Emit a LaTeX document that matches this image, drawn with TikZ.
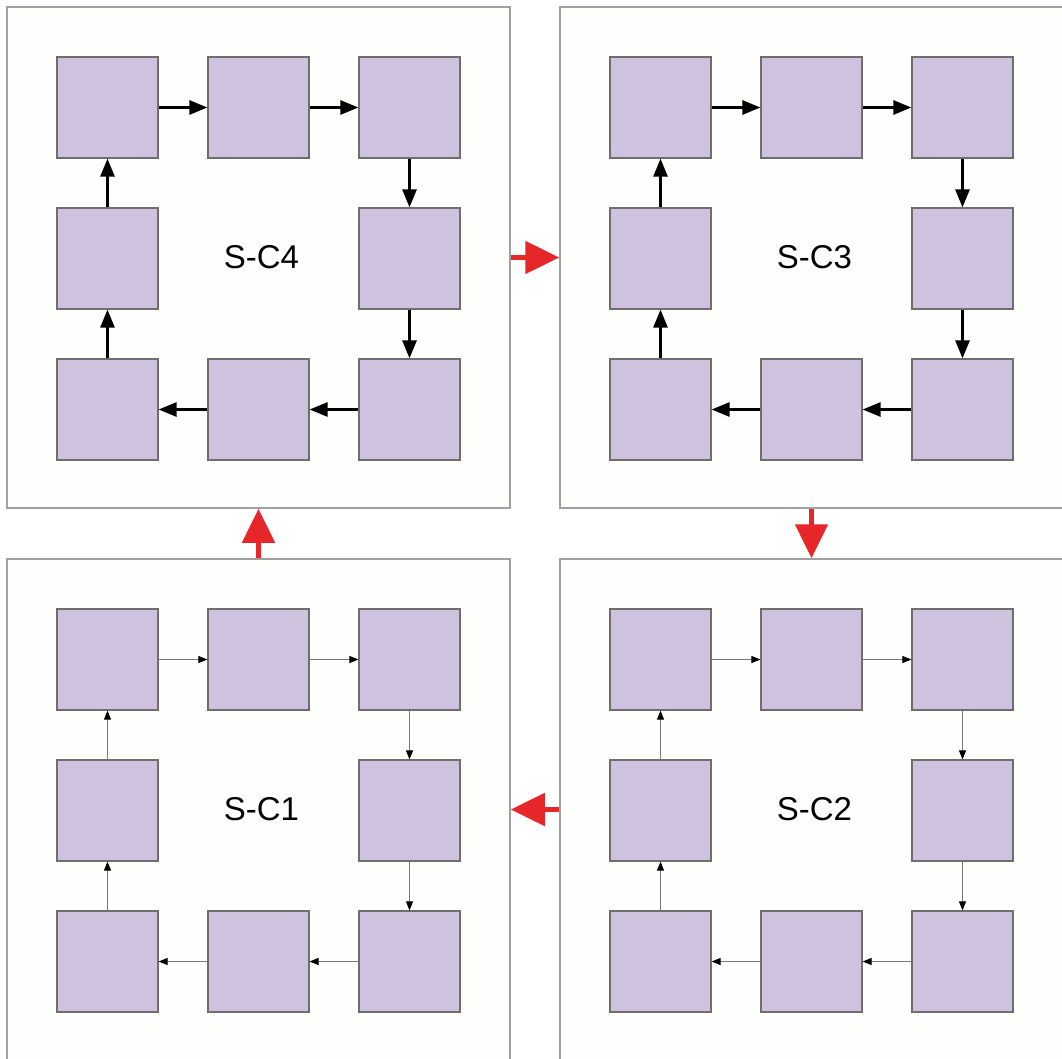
\documentclass[tikz,border=0pt]{standalone}
\usepackage{fontspec}
\setmainfont{Liberation Sans}
\usetikzlibrary{arrows.meta}
\definecolor{sqfill}{RGB}{206,194,222}
\definecolor{sqline}{RGB}{110,110,110}
\definecolor{panelline}{RGB}{160,160,160}
\definecolor{redarr}{RGB}{231,38,42}
\definecolor{thinline}{RGB}{120,120,120}
\definecolor{panelbg}{RGB}{254,254,252}
\tikzset{
  panel/.style={draw=panelline, line width=1.5pt, fill=panelbg, minimum width=503pt, minimum height=501pt, inner sep=0pt},
  sq/.style={draw=sqline, line width=1.2pt, fill=sqfill, minimum size=101pt, inner sep=0pt},
  lbl/.style={font=\fontsize{33}{40}\selectfont, inner sep=0pt},
  boldflow/.style={draw=black, line width=2.7pt, -{Triangle[length=18pt,width=14pt]}},
  thinflow/.style={draw=thinline, line width=1pt, -{Triangle[length=9pt,width=7pt,color=black]}},
  bigred/.style={draw=redarr, line width=5pt, -{Triangle[length=34pt,width=32pt]}},
}
\newcommand{\sqring}[5]{%
  \node[sq] (#1a) at ({#2-151},{#3-151}) {};
  \node[sq] (#1b) at ({#2},{#3-151}) {};
  \node[sq] (#1c) at ({#2+151},{#3-151}) {};
  \node[sq] (#1d) at ({#2+151},{#3}) {};
  \node[sq] (#1e) at ({#2+151},{#3+151}) {};
  \node[sq] (#1f) at ({#2},{#3+151}) {};
  \node[sq] (#1g) at ({#2-151},{#3+151}) {};
  \node[sq] (#1h) at ({#2-151},{#3}) {};
  \node[lbl] (#1t) at ({#2+3},{#3-1}) {#4};
  \draw[#5] (#1a) -- (#1b);
  \draw[#5] (#1b) -- (#1c);
  \draw[#5] (#1c) -- (#1d);
  \draw[#5] (#1d) -- (#1e);
  \draw[#5] (#1e) -- (#1f);
  \draw[#5] (#1f) -- (#1g);
  \draw[#5] (#1g) -- (#1h);
  \draw[#5] (#1h) -- (#1a);
}
\begin{document}
\begin{tikzpicture}[x=1pt,y=-1pt]
  \useasboundingbox (0,0) rectangle (1062,1059);
  \clip (0,0) rectangle (1062,1059);
  \fill[white] (0,0) rectangle (1062,1059);
  % panels
  \node[panel] (P4) at (258.5,257.5) {};
  \node[panel] (P3) at (811.5,257.5) {};
  \node[panel] (P1) at (258.5,809.5) {};
  \node[panel] (P2) at (811.5,809.5) {};
  % rings
  \sqring{q4}{258.5}{258.5}{S-C4}{boldflow}
  \sqring{q3}{811.5}{258.5}{S-C3}{boldflow}
  \sqring{q1}{258.5}{810.5}{S-C1}{thinflow}
  \sqring{q2}{811.5}{810.5}{S-C2}{thinflow}
  % red transitions
  \draw[bigred] (P4.east) -- (P3.west);
  \draw[bigred] (P3.south) -- (P2.north);
  \draw[bigred] (P2.west) -- (P1.east);
  \draw[bigred] (P1.north) -- (P4.south);
\end{tikzpicture}
\end{document}
